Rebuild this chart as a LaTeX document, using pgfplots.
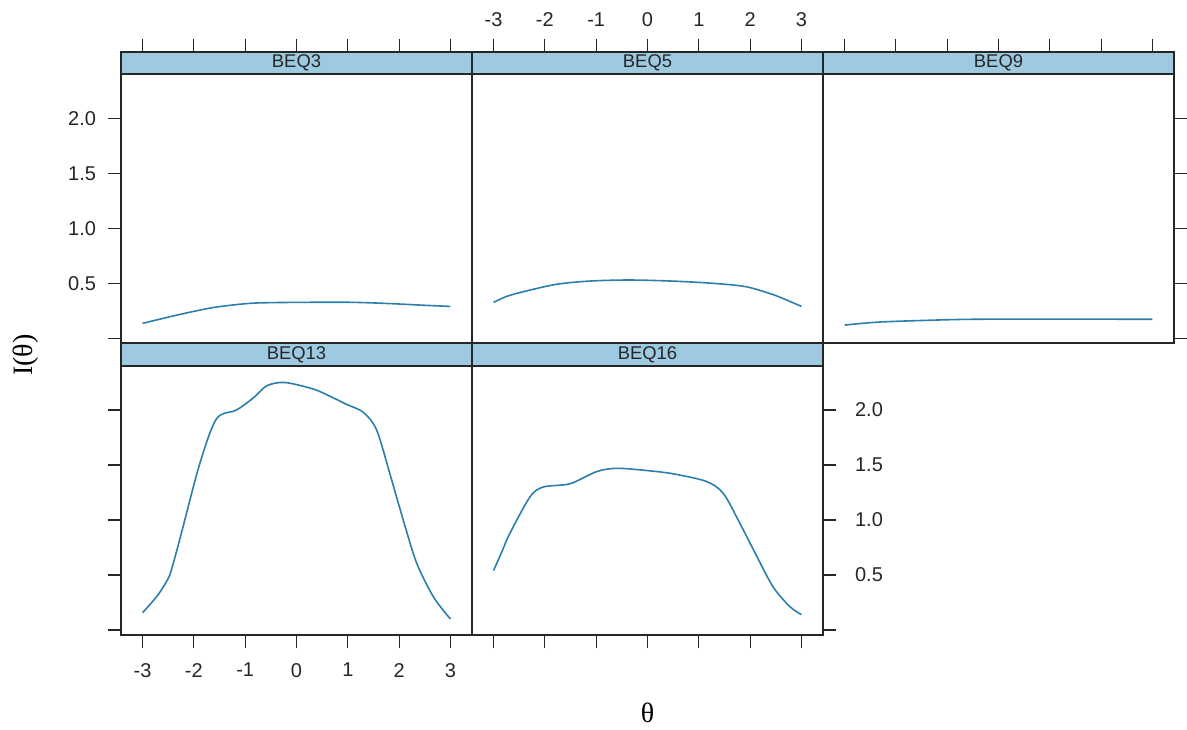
\documentclass[border=0pt]{standalone}
\usepackage{pgfplots}
\pgfplotsset{compat=1.18}
\usepackage{fontspec}
\setmainfont{Liberation Sans}
\newfontfamily\seriffont{Liberation Serif}
\definecolor{stripblue}{RGB}{158,202,225}
\definecolor{curvecol}{RGB}{43,127,170}
\pgfplotsset{
  crv/.style={color=curvecol, line width=0.8pt, smooth, mark=none},
  panel/.style={
    scale only axis, width=175.5pt,
    xmin=-3.42, xmax=3.42,
    xtick={-3,-2,-1,0,1,2,3},
    xticklabels={-3,-2,-1,0,1,2,3},
    ytick={0,0.5,1,1.5,2},
    yticklabels={,0.5,1.0,1.5,2.0},
    tick align=outside, major tick length=6.5pt,
    every tick/.style={black!85, line width=0.6pt},
    axis line style={line width=0.6pt, black!85},
    axis on top, clip=false,
    ticklabel style={font=\fontsize{10}{12}\selectfont, text=black!85},
  },
  toprow/.style={height=145.5pt, ymin=-0.0427, ymax=2.6027},
  botrow/.style={height=146pt, ymin=-0.0455, ymax=2.609},
}
\newcommand\strip[3]{%
  \draw[fill=stripblue, line width=0.6pt, draw=black!85] (rel axis cs:0,#1) rectangle (rel axis cs:1,1);
  \node[font=\fontsize{9.2}{11}\selectfont, text=black!85] at (rel axis cs:0.5,#2) {#3};
}
\begin{document}
\begin{tikzpicture}
\path[use as bounding box] (0,0) rectangle (593.5pt,-364.5pt);
% BEQ3
\begin{axis}[panel, toprow, at={(60.5pt,-26pt)}, anchor=north west,
  xtick pos=right, xticklabels={}, ytick pos=left,
  yticklabel style={xshift=-2.5pt}]
\addplot[crv] coordinates {(-3,0.136) (-2.7,0.17) (-2.34,0.21) (-2,0.245) (-1.62,0.28) (-1.2,0.305) (-0.84,0.32) (-0.4,0.325) (0.13,0.327) (0.6,0.328) (1.1,0.327) (1.6,0.32) (2.08,0.31) (2.5,0.30) (3,0.29)};
\strip{0.9244}{0.9622}{BEQ3}
\end{axis}
% BEQ5
\begin{axis}[panel, toprow, at={(236pt,-26pt)}, anchor=north west,
  xtick pos=right, ytick=\empty, xticklabel style={yshift=2.5pt}]
\addplot[crv] coordinates {(-3,0.327) (-2.75,0.38) (-2.45,0.42) (-1.79,0.49) (-1.14,0.52) (-0.36,0.53) (0.49,0.52) (1.27,0.50) (1.91,0.47) (2.43,0.40) (2.7,0.35) (3,0.29)};
\strip{0.9244}{0.9622}{BEQ5}
\end{axis}
% BEQ9
\begin{axis}[panel, toprow, at={(411.5pt,-26pt)}, anchor=north west,
  xtick pos=right, xticklabels={}, ytick pos=right, yticklabels={}]
\addplot[crv] coordinates {(-3,0.12) (-2.32,0.148) (-1.21,0.166) (-0.5,0.173) (0.8,0.175) (3,0.173)};
\strip{0.9244}{0.9622}{BEQ9}
\end{axis}
% BEQ13
\begin{axis}[panel, botrow, at={(60.5pt,-171.5pt)}, anchor=north west,
  xtick pos=left, ytick pos=left, yticklabels={}, xticklabel style={yshift=-4pt}]
\addplot[crv] coordinates {(-3,0.157) (-2.73,0.30) (-2.6,0.39) (-2.47,0.50) (-2.34,0.71) (-2.21,0.94) (-1.88,1.52) (-1.56,1.92) (-1.17,2.0) (-0.84,2.11) (-0.58,2.22) (-0.23,2.25) (0.33,2.19) (0.72,2.11) (0.98,2.05) (1.30,1.98) (1.56,1.82) (1.82,1.42) (2.08,1.0) (2.34,0.61) (2.67,0.30) (3,0.10)};
\strip{0.9212}{0.9606}{BEQ13}
\end{axis}
% BEQ16
\begin{axis}[panel, botrow, at={(236pt,-171.5pt)}, anchor=north west,
  xtick pos=left, xticklabels={}, ytick pos=right, yticklabel style={xshift=6pt}]
\addplot[crv] coordinates {(-3,0.54) (-2.84,0.71) (-2.68,0.88) (-2.29,1.21) (-2.03,1.30) (-1.51,1.33) (-0.99,1.44) (-0.60,1.47) (-0.02,1.45) (0.50,1.42) (1.15,1.35) (1.48,1.24) (1.80,0.97) (2.13,0.67) (2.45,0.39) (2.78,0.21) (3,0.14)};
\strip{0.9212}{0.9606}{BEQ16}
\end{axis}
\node[rotate=90, font=\seriffont\fontsize{14}{16}\selectfont] at (13pt,-177.5pt) {I(θ)};
\node[font=\seriffont\fontsize{14}{16}\selectfont] at (323.75pt,-356.5pt) {θ};
\end{tikzpicture}
\end{document}
